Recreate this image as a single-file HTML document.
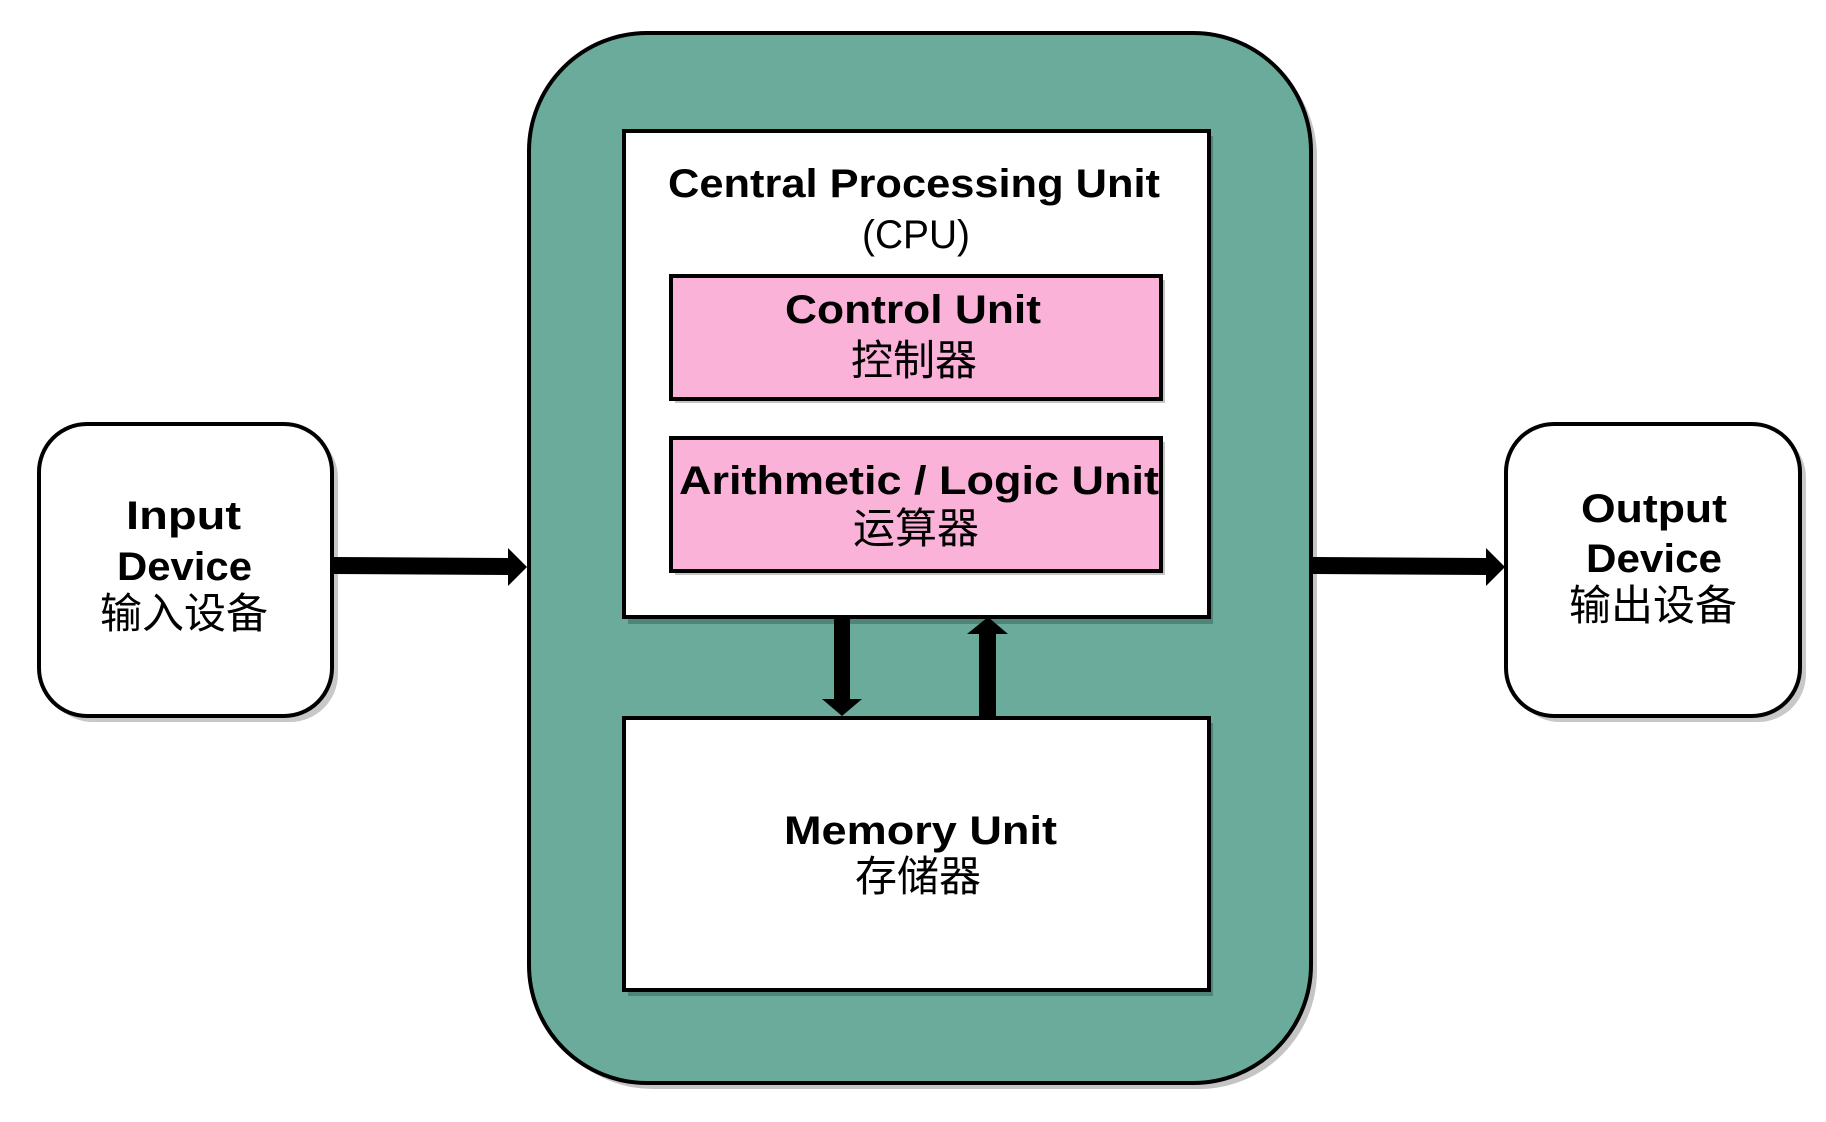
<!DOCTYPE html>
<html><head><meta charset="utf-8"><style>
html,body{margin:0;padding:0;background:#fff;}
svg{display:block}
.en{font-family:"Liberation Sans",sans-serif;font-weight:bold;font-size:40px;fill:#000}
.cn{font-family:"Liberation Sans","Noto Sans CJK SC",sans-serif;font-size:42px;fill:#000}
</style></head><body>
<svg width="1826" height="1122" viewBox="0 0 1826 1122" xmlns="http://www.w3.org/2000/svg">
<!-- outer teal -->
<rect x="535" y="39" width="782" height="1050" rx="118" fill="#c4c4c4"/>
<rect x="529" y="33" width="782" height="1050" rx="118" fill="#6aab9c" stroke="#000" stroke-width="4"/>
<!-- input / output boxes -->
<rect x="45" y="430" width="293" height="292" rx="48" fill="#c8c8c8"/>
<rect x="39" y="424" width="293" height="292" rx="48" fill="#fff" stroke="#000" stroke-width="4"/>
<rect x="1512" y="430" width="294" height="292" rx="48" fill="#c8c8c8"/>
<rect x="1506" y="424" width="294" height="292" rx="48" fill="#fff" stroke="#000" stroke-width="4"/>
<!-- CPU box -->
<rect x="628" y="136" width="585" height="488" fill="#4f8478"/>
<rect x="624" y="131" width="585" height="486" fill="#fff" stroke="#000" stroke-width="4"/>
<!-- control unit -->
<rect x="675" y="280" width="490" height="123" fill="#c4c4c4"/>
<rect x="671" y="276" width="490" height="123" fill="#fbb2d9" stroke="#000" stroke-width="4"/>
<!-- ALU -->
<rect x="675" y="442" width="490" height="133" fill="#c4c4c4"/>
<rect x="671" y="438" width="490" height="133" fill="#fbb2d9" stroke="#000" stroke-width="4"/>
<!-- memory -->
<rect x="628" y="723" width="585" height="273" fill="#4f8478"/>
<rect x="624" y="718" width="585" height="272" fill="#fff" stroke="#000" stroke-width="4"/>
<!-- arrows -->
<polygon points="332,557 508,558 508,548 527,567 508,586 508,575 332,574" fill="#000"/>
<polygon points="1313,557 1486,558 1486,548 1505,567 1486,586 1486,575 1313,574" fill="#000"/>
<polygon points="834,619 850,619 850,699 862,699 842,716 822,699 834,699" fill="#000"/>
<polygon points="979,716 996,716 996,634 1008,634 988,617 967,634 979,634" fill="#000"/>
<!-- text -->
<text class="en" x="668" y="197" textLength="492" lengthAdjust="spacingAndGlyphs">Central Processing Unit</text>
<text class="en" x="916" y="248" text-anchor="middle" style="font-weight:normal" textLength="108" lengthAdjust="spacingAndGlyphs">(CPU)</text>
<text class="en" x="785" y="323" textLength="256" lengthAdjust="spacingAndGlyphs">Control Unit</text>
<text class="cn" x="914" y="375" text-anchor="middle">控制器</text>
<text class="en" x="679" y="494" textLength="480" lengthAdjust="spacingAndGlyphs">Arithmetic / Logic Unit</text>
<text class="cn" x="916" y="543" text-anchor="middle">运算器</text>
<text class="en" x="784" y="844" textLength="273" lengthAdjust="spacingAndGlyphs">Memory Unit</text>
<text class="cn" x="918" y="891" text-anchor="middle">存储器</text>
<text class="en" x="126" y="529" textLength="115" lengthAdjust="spacingAndGlyphs">Input</text>
<text class="en" x="117" y="580" textLength="135" lengthAdjust="spacingAndGlyphs">Device</text>
<text class="cn" x="184" y="628" text-anchor="middle">输入设备</text>
<text class="en" x="1581" y="522" textLength="146" lengthAdjust="spacingAndGlyphs">Output</text>
<text class="en" x="1586" y="572" textLength="136" lengthAdjust="spacingAndGlyphs">Device</text>
<text class="cn" x="1653" y="620" text-anchor="middle">输出设备</text>
</svg>
</body></html>
